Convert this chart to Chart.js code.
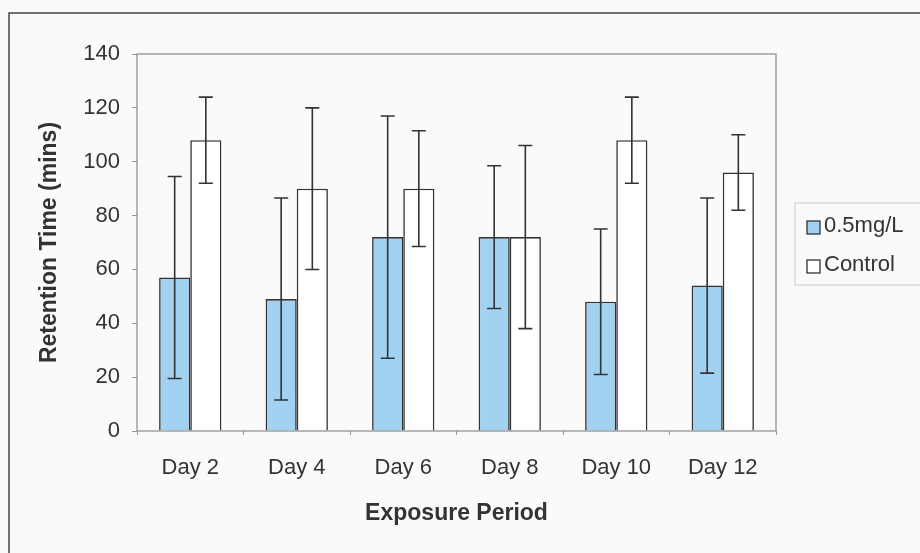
<!DOCTYPE html>
<html>
<head>
<meta charset="utf-8">
<script src="https://cdn.jsdelivr.net/npm/chart.js@4.4.0/dist/chart.umd.min.js"></script>
<style>
  html, body { margin: 0; padding: 0; background: #fbfafb; }
  #wrap { width: 920px; height: 553px; position: relative; }
</style>
</head>
<body>
<div id="wrap"><canvas id="retentionChart" width="920" height="553"></canvas></div>
<script>
const days = ['Day 2', 'Day 4', 'Day 6', 'Day 8', 'Day 10', 'Day 12'];
const treated = [57, 49, 72, 72, 48, 54];
const treatedErr = [37.5, 37.5, 45, 26.5, 27, 32.5];
const control = [108, 90, 90, 72, 108, 96];
const controlErr = [16, 30, 21.5, 34, 16, 14];
const yTicks = [0, 20, 40, 60, 80, 100, 120, 140];

const font = 'Liberation Sans, Arial, sans-serif';
const ink = '#333';

// error bars, plot frame, outer frame and legend
const extras = {
  id: 'extras',
  afterDatasetsDraw(chart) {
    const c = chart.ctx;
    const y = chart.scales.y;
    c.save();
    c.strokeStyle = ink;
    c.lineWidth = 1.6;
    [treatedErr, controlErr].forEach((errs, di) => {
      const meta = chart.getDatasetMeta(di);
      meta.data.forEach((bar, i) => {
        const v = chart.data.datasets[di].data[i];
        const top = y.getPixelForValue(v + errs[i]);
        const bot = y.getPixelForValue(v - errs[i]);
        c.beginPath();
        c.moveTo(bar.x, top); c.lineTo(bar.x, bot);
        c.moveTo(bar.x - 7, top); c.lineTo(bar.x + 7, top);
        c.moveTo(bar.x - 7, bot); c.lineTo(bar.x + 7, bot);
        c.stroke();
      });
    });
    c.restore();
  },
  afterDraw(chart) {
    const c = chart.ctx;
    const a = chart.chartArea;
    c.save();
    // plot frame
    c.strokeStyle = '#8a8a8a';
    c.lineWidth = 1.2;
    c.strokeRect(a.left, a.top, a.right - a.left, a.bottom - a.top);
    // outer frame (no bottom edge visible)
    c.strokeStyle = '#444';
    c.lineWidth = 1.5;
    c.beginPath();
    c.moveTo(9, 560); c.lineTo(9, 13); c.lineTo(925, 13);
    c.stroke();
    // legend
    c.strokeStyle = '#c8c8c8';
    c.lineWidth = 1;
    c.strokeRect(795, 203, 130, 82);
    const items = chart.data.datasets;
    c.font = '22px ' + font;
    c.textBaseline = 'middle';
    items.forEach((ds, i) => {
      const cy = 226 + i * 39;
      c.fillStyle = ds.backgroundColor;
      c.fillRect(807, cy - 5, 13, 13);
      c.strokeStyle = ink;
      c.lineWidth = 1.3;
      c.strokeRect(807, cy - 5, 13, 13);
      c.fillStyle = ink;
      c.fillText(ds.label, 824, cy);
    });
    c.restore();
  }
};

new Chart(document.getElementById('retentionChart'), {
  type: 'bar',
  data: {
    labels: days,
    datasets: [
      { label: '0.5mg/L', data: treated, backgroundColor: '#a2d2f1', borderColor: ink, borderWidth: 1.6 },
      { label: 'Control', data: control, backgroundColor: '#ffffff', borderColor: ink, borderWidth: 1.6 }
    ]
  },
  options: {
    responsive: false,
    animation: false,
    events: [],
    layout: { padding: { top: 54, right: 144, bottom: 0, left: 0 } },
    categoryPercentage: 0.585,
    barPercentage: 1.0,
    plugins: { legend: { display: false }, tooltip: { enabled: false } },
    scales: {
      x: {
        afterFit(s) { s.height = 122; },
        grid: { offset: true, drawOnChartArea: false, drawTicks: true, tickLength: 4, color: '#999' },
        border: { display: false },
        ticks: { color: ink, font: { family: font, size: 22 }, padding: 20 },
        title: {
          display: true, text: 'Exposure Period', color: ink,
          font: { family: font, size: 23, weight: 'bold' },
          padding: { top: 0, bottom: 26 }
        }
      },
      y: {
        min: 0, max: 140,
        afterFit(s) { s.width = 137; },
        afterBuildTicks(s) { s.ticks = yTicks.map(v => ({ value: v })); },
        grid: { drawOnChartArea: false, drawTicks: true, tickLength: 5, color: '#999' },
        border: { display: false },
        ticks: { color: ink, font: { family: font, size: 22 }, padding: 12 },
        title: {
          display: true, text: 'Retention Time (mins)', color: ink,
          font: { family: font, size: 23, weight: 'bold' },
          padding: { top: 36, bottom: 0 }
        }
      }
    }
  },
  plugins: [extras]
});
</script>
</body>
</html>
